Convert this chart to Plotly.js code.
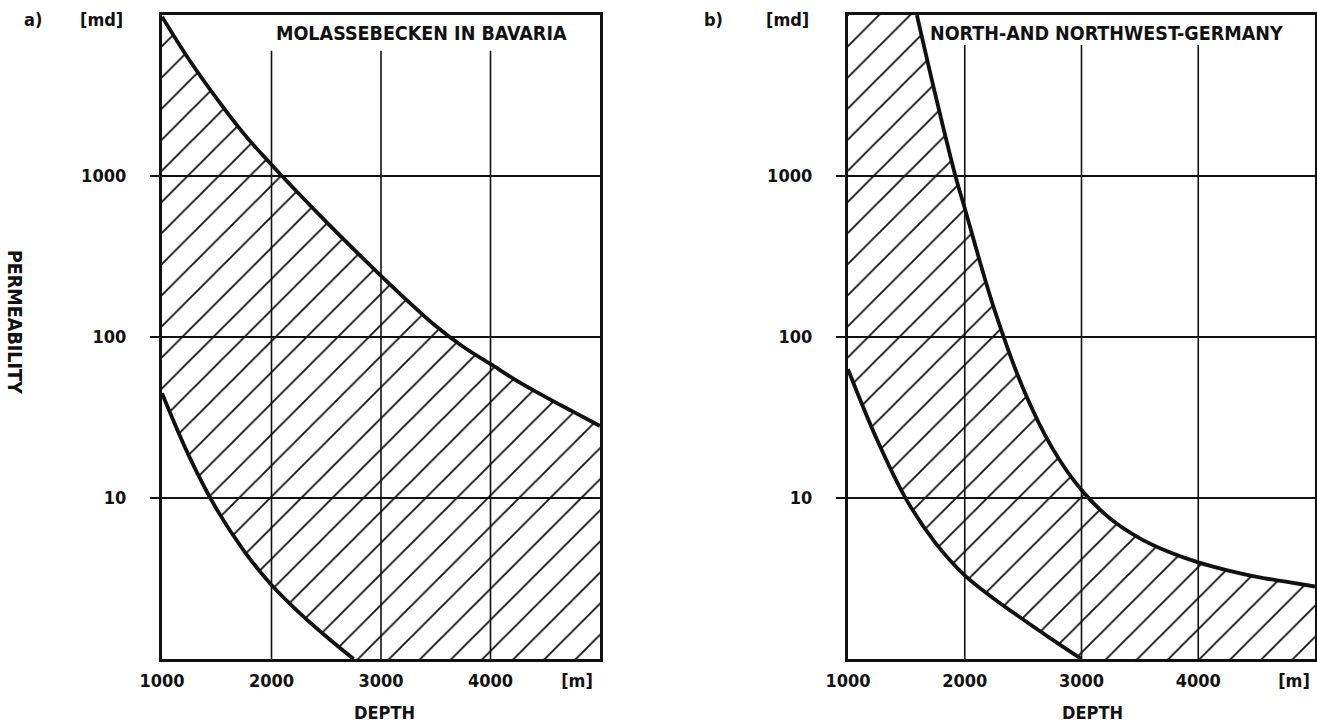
<!DOCTYPE html>
<html><head><meta charset="utf-8">
<script src="https://cdn.plot.ly/plotly-3.0.1.min.js"></script>
<style>html,body{margin:0;padding:0;background:#fff}#chart{width:1317px;height:728px}</style>
</head><body><div id="chart"></div>
<script>
// ---------------- data ----------------
const depthTickVals = [1000, 2000, 3000, 4000];
const depthTickText = ['1000', '2000', '3000', '4000'];
const depthUnit = '[m]';
const permTickVals = [10, 100, 1000];
const permTickText = ['10', '100', '1000'];
const gridDepths = [2000, 3000, 4000];

// a) Molassebecken in Bavaria
const aUpperDepth = [1000, 1250, 1500, 1750, 2000, 2250, 2500, 2750, 3000, 3250, 3500, 3750, 4000, 4250, 4500, 4750, 5000];
const aUpperPerm  = [9770, 5250, 3020, 1820, 1175, 776, 519, 351, 240, 166, 117, 87, 68, 53, 42.5, 34.5, 28];
const aLowerDepth = [1000, 1250, 1500, 1750, 2000, 2250, 2500, 2750];
const aLowerPerm  = [44.7, 18.0, 8.5, 4.68, 2.88, 1.95, 1.38, 1.0];

// b) North- and Northwest-Germany
const bUpperDepth = [1590, 1750, 1920, 2000, 2250, 2500, 2750, 3000, 3250, 3500, 3750, 4000, 4250, 4500, 4750, 5000];
const bUpperPerm  = [10000, 3160, 1000, 630, 151, 47.9, 20.4, 11.2, 7.41, 5.62, 4.62, 3.98, 3.55, 3.24, 3.02, 2.82];
const bLowerDepth = [1000, 1250, 1500, 1750, 2000, 2250, 2500, 2750, 3000];
const bLowerPerm  = [63.1, 22.9, 9.77, 5.25, 3.31, 2.37, 1.76, 1.32, 1.0];

// ---------------- style / layout ----------------
const W = 1317, H = 728, MT = 15, MB = 69;
const PH = H - MT - MB;
const DEPTH_MIN = 1000, DEPTH_MAX = 5000, PERM_MIN = 1, PERM_MAX = 10000;
const FONT = 'DejaVu Sans Condensed, Liberation Sans Narrow, sans-serif';
const tickFont = {family: FONT, size: 18, color: '#111', weight: 'bold'};
const px = x => x / W;
const py = y => (H - MB - y) / PH;

function panelTraces(xa, ya, uD, uP, lD, lP, gridTop) {
  const tr = [];
  // hatched area between the two boundary curves
  const polyX = [DEPTH_MIN].concat(uD, [DEPTH_MAX], lD.slice().reverse());
  const polyY = [PERM_MAX].concat(uP, [PERM_MIN], lP.slice().reverse());
  tr.push({x: polyX, y: polyY, xaxis: xa, yaxis: ya, type: 'scatter', mode: 'lines',
    fill: 'toself', line: {width: 0, color: 'rgba(0,0,0,0)'}, fillcolor: 'rgba(0,0,0,0)',
    fillpattern: {shape: '/', size: 22, solidity: 0.085, fgcolor: '#111', bgcolor: 'rgba(0,0,0,0)'},
    hoverinfo: 'skip', showlegend: false});
  // vertical grid lines
  gridDepths.forEach(d => tr.push({x: [d, d], y: [PERM_MIN, gridTop], xaxis: xa, yaxis: ya,
    type: 'scatter', mode: 'lines', line: {color: '#111', width: 1.6}, hoverinfo: 'skip', showlegend: false}));
  // boundary curves
  [[uD, uP], [lD, lP]].forEach(([d, p]) => tr.push({x: d, y: p, xaxis: xa, yaxis: ya,
    type: 'scatter', mode: 'lines', line: {color: '#111', width: 3.8, shape: 'spline', smoothing: 1},
    hoverinfo: 'skip', showlegend: false}));
  return tr;
}

const data = [].concat(
  panelTraces('x', 'y', aUpperDepth, aUpperPerm, aLowerDepth, aLowerPerm, 6000),
  panelTraces('x2', 'y2', bUpperDepth, bUpperPerm, bLowerDepth, bLowerPerm, 6500)
);

function xAxis(dom, unitPos) {
  return {domain: dom, range: [DEPTH_MIN, DEPTH_MAX], tickvals: depthTickVals.concat([unitPos]),
    ticktext: depthTickText.concat([depthUnit]), tickfont: tickFont, ticks: '', ticklabelstandoff: 3,
    showgrid: false, zeroline: false, showline: true, mirror: true, linewidth: 3.2, linecolor: '#111', fixedrange: true};
}
function yAxis(anchor) {
  return {domain: [0, 1], anchor: anchor, type: 'log', range: [Math.log10(PERM_MIN), Math.log10(PERM_MAX)],
    tickvals: permTickVals, ticktext: permTickText, tickfont: tickFont, ticks: 'outside', ticklen: 9,
    tickwidth: 1.6, tickcolor: '#111', ticklabelstandoff: 20, showgrid: true, gridcolor: '#111', gridwidth: 1.6,
    zeroline: false, showline: true, mirror: true, linewidth: 3.2, linecolor: '#111', fixedrange: true};
}

const labFont = {family: FONT, size: 18, color: '#111', weight: 'bold'};
const titleFont = {family: FONT, size: 19.5, color: '#111', weight: 'bold'};
function ann(text, x, y, opts) {
  return Object.assign({text: text, xref: 'paper', yref: 'paper', x: px(x), y: py(y), showarrow: false,
    font: labFont, xanchor: 'center', yanchor: 'middle'}, opts || {});
}

const layout = {
  width: W, height: H, margin: {l: 0, r: 0, t: MT, b: MB},
  paper_bgcolor: '#fff', plot_bgcolor: '#fff', showlegend: false,
  xaxis: Object.assign(xAxis([162 / W, 600 / W], 4790), {anchor: 'y'}),
  yaxis: yAxis('x'),
  xaxis2: Object.assign(xAxis([848 / W, 1315 / W], 4820), {anchor: 'y2'}),
  yaxis2: yAxis('x2'),
  annotations: [
    ann('a)', 33, 19), ann('[md]', 101, 19),
    ann('b)', 713, 19), ann('[md]', 787, 19),
    ann('MOLASSEBECKEN IN BAVARIA', 274, 33, {xanchor: 'left', font: titleFont}),
    ann('NORTH-AND NORTHWEST-GERMANY', 928, 33, {xanchor: 'left', font: titleFont}),
    ann('DEPTH', 384, 712), ann('DEPTH', 1092, 712),
    ann('PERMEABILITY', 15, 322, {textangle: 90, font: titleFont})
  ]
};

Plotly.newPlot('chart', data, layout, {displayModeBar: false, staticPlot: true});
</script></body></html>
